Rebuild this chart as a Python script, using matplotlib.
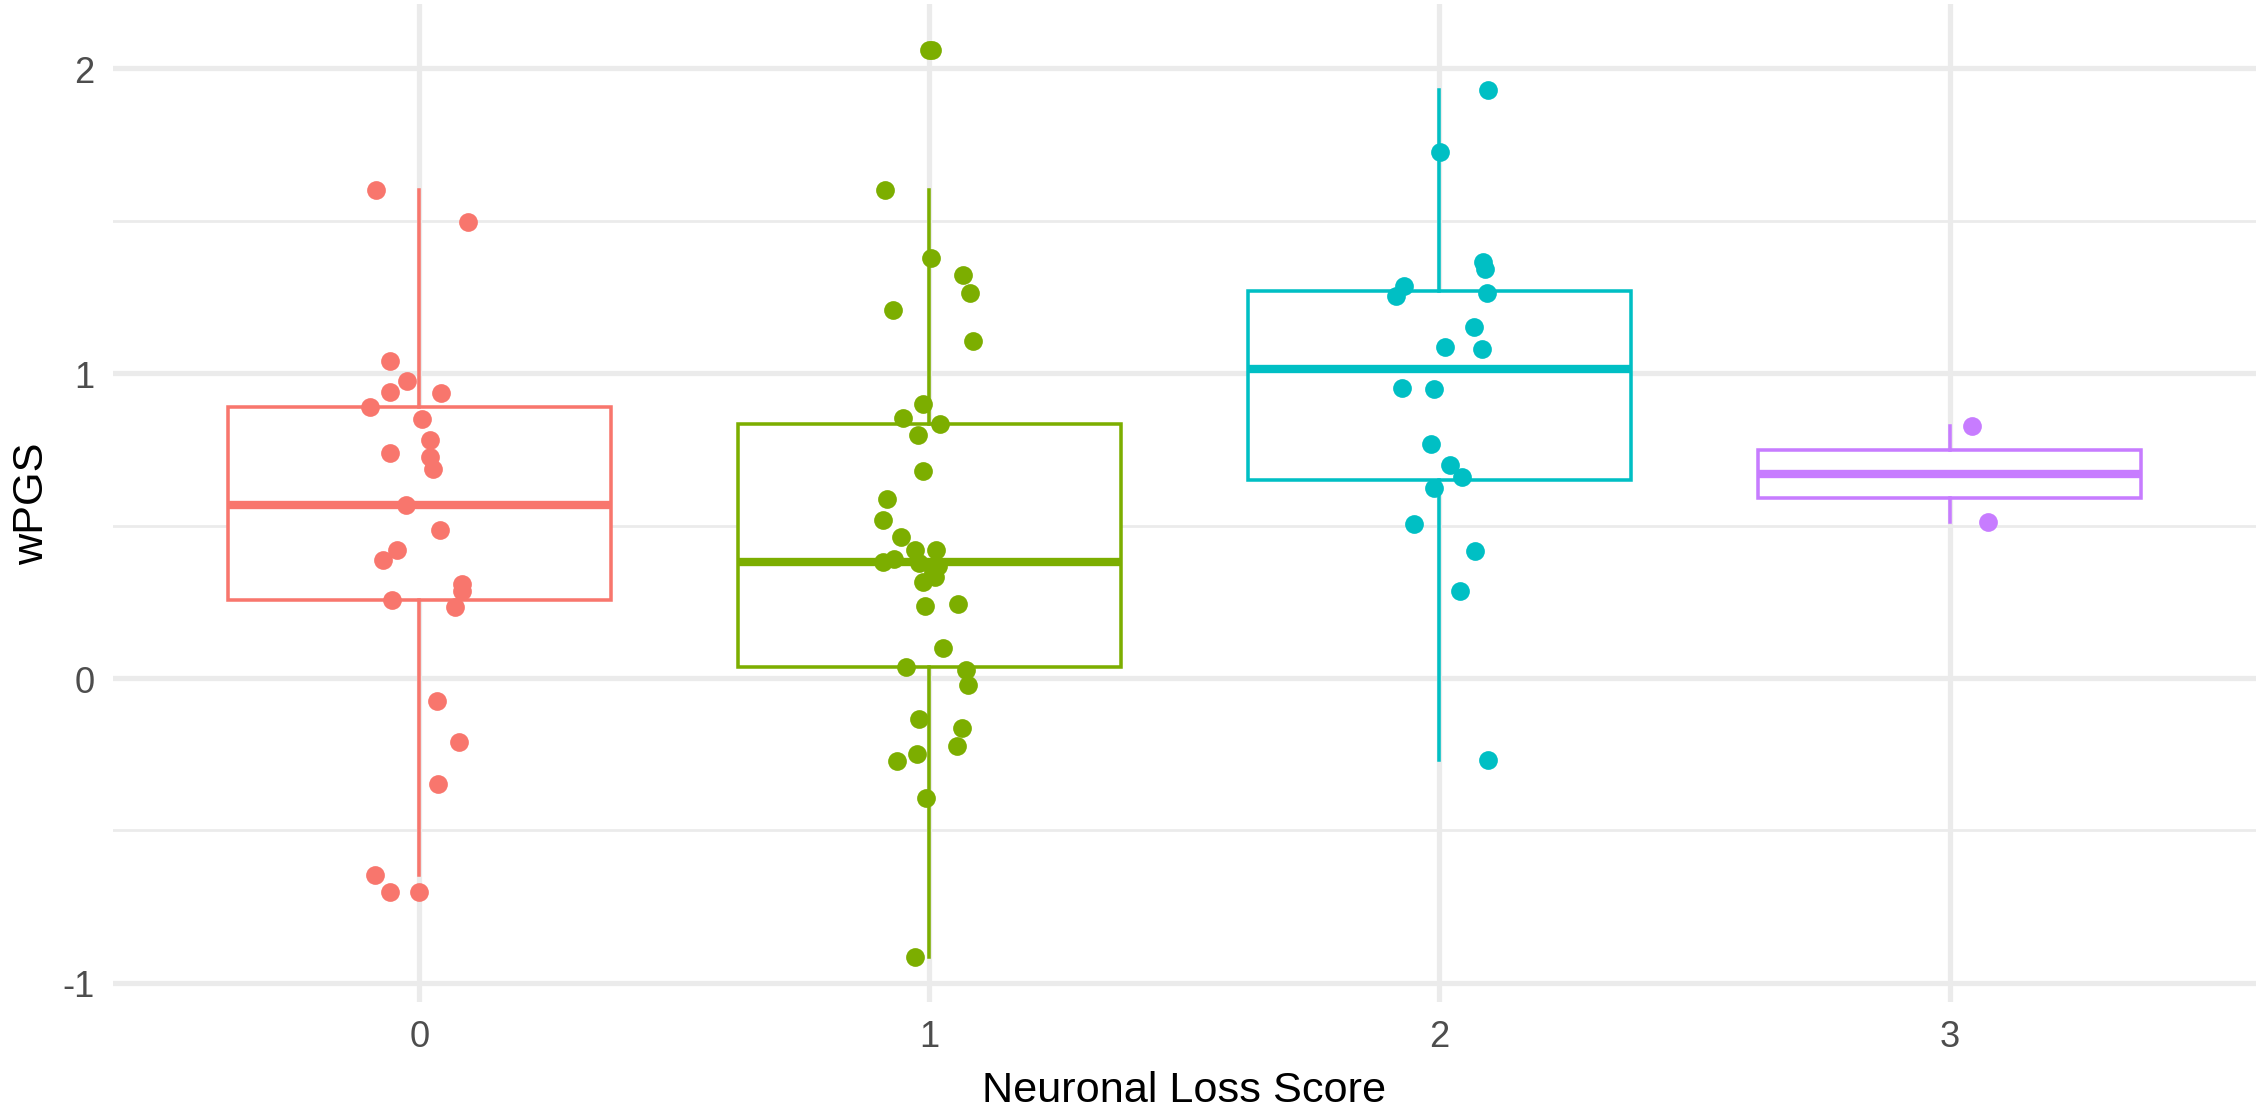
import numpy as np
import matplotlib.pyplot as plt

# wPGS by neuronal loss score
scores = [0, 1, 2, 3]
colors = ['#F8766D', '#7CAE00', '#00BFC4', '#C77CFF']

wpgs_0 = [1.602, 1.495, 1.039, 0.975, 0.940, 0.936, 0.888, 0.849, 0.780, 0.737,
          0.725, 0.685, 0.569, 0.485, 0.419, 0.388, 0.307, 0.285, 0.257, 0.233,
          -0.074, -0.211, -0.347, -0.646, -0.703]
jitter_0 = [-0.086, 0.095, -0.058, -0.025, -0.058, 0.042, -0.097, 0.006, 0.020, -0.058,
            0.021, 0.027, -0.026, 0.040, -0.044, -0.071, 0.083, 0.083, -0.054, 0.069,
            0.035, 0.077, 0.036, -0.087, -0.057]

wpgs_1 = [2.061, 1.600, 1.377, 1.322, 1.264, 1.207, 1.105, 0.900, 0.854, 0.833,
          0.797, 0.678, 0.588, 0.519, 0.462, 0.421, 0.421, 0.381, 0.389, 0.377,
          0.368, 0.347, 0.331, 0.314, 0.236, 0.243, 0.100, 0.036, 0.025, -0.023,
          -0.134, -0.165, -0.249, -0.222, -0.272, -0.393, -0.914]
jitter_1 = [0.005, -0.087, 0.003, 0.065, 0.080, -0.071, 0.085, -0.013, -0.052, 0.021,
            -0.022, -0.012, -0.084, -0.091, -0.056, -0.028, 0.013, -0.092, -0.069, -0.020,
            0.016, 0.007, 0.010, -0.012, -0.008, 0.056, 0.026, -0.045, 0.071, 0.076,
            -0.021, 0.063, -0.024, 0.055, -0.064, -0.007, -0.029]

wpgs_2 = [1.928, 1.725, 1.365, 1.342, 1.287, 1.254, 1.262, 1.153, 1.086, 1.078,
          0.952, 0.949, 0.769, 0.698, 0.659, 0.623, 0.505, 0.418, 0.287, -0.268]
jitter_2 = [0.096, 0.001, 0.085, 0.089, -0.069, -0.086, 0.094, 0.067, 0.011, 0.083,
            -0.073, -0.011, -0.016, 0.020, 0.044, -0.011, -0.050, 0.070, 0.040, 0.095]

wpgs_3 = [0.826, 0.512]
jitter_3 = [0.044, 0.075]

groups = [wpgs_0, wpgs_1, wpgs_2, wpgs_3]
jitters = [jitter_0, jitter_1, jitter_2, jitter_3]

plt.rcParams['font.family'] = ['Liberation Sans', 'DejaVu Sans']

fig = plt.figure(figsize=(7.56, 3.7233), dpi=300)
ax = fig.add_axes([0.05, 0.1021, 0.9445, 0.893])

bp = ax.boxplot(groups, positions=scores, widths=0.75, patch_artist=True,
                showcaps=False, whis=1.5, zorder=2)
for i, c in enumerate(colors):
    bp['boxes'][i].set(facecolor='white', edgecolor=c, linewidth=0.85)
    bp['medians'][i].set(color=c, linewidth=2.0, solid_capstyle='butt')
    for w in bp['whiskers'][2 * i:2 * i + 2]:
        w.set(color=c, linewidth=0.85)
    bp['fliers'][i].set(marker='o', markerfacecolor=c, markeredgecolor='none',
                        markersize=4.5)

for s, vals, jit, c in zip(scores, groups, jitters, colors):
    ax.scatter(np.array(jit) + s, vals, s=4.5 ** 2, color=c, linewidths=0, zorder=3)

# ggplot-like limits
all_vals = np.concatenate(groups)
lo, hi = all_vals.min(), all_vals.max()
pad = 0.05 * (hi - lo)
ax.set_ylim(lo - pad, hi + pad)
ax.set_xlim(-0.6, 3.6)

ax.set_xticks(scores)
ax.set_xticklabels([str(s) for s in scores])
ax.set_yticks([-1, 0, 1, 2])
ax.set_yticklabels(['-1', '0', '1', '2'])
ax.set_yticks([-0.5, 0.5, 1.5], minor=True)

ax.set_axisbelow(True)
ax.grid(True, which='major', color='#EBEBEB', linewidth=1.25)
ax.grid(True, which='minor', axis='y', color='#EBEBEB', linewidth=0.65)
for sp in ax.spines.values():
    sp.set_visible(False)
ax.tick_params(which='both', length=0, labelsize=8.7, labelcolor='#4D4D4D')
ax.tick_params(axis='y', pad=4.5)
ax.tick_params(axis='x', pad=4.0)

ax.set_xlabel('Neuronal Loss Score', fontsize=10.4, labelpad=4)
ax.set_ylabel('wPGS', fontsize=10.4, labelpad=2.5)

fig.savefig('out.png', dpi=300)
